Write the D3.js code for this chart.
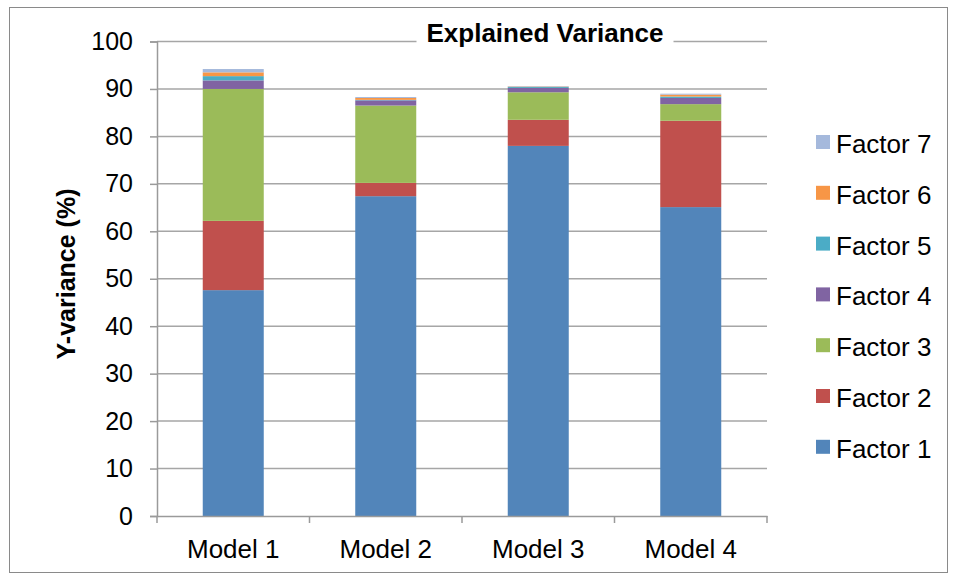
<!DOCTYPE html>
<html>
<head>
<meta charset="utf-8">
<script src="https://cdn.jsdelivr.net/npm/d3@7"></script>
<style>
  html, body { margin: 0; padding: 0; background: #fff; }
  svg { display: block; font-family: "Liberation Sans", Arial, sans-serif; }
</style>
</head>
<body>
<svg id="chart" width="957" height="581"></svg>
<script>
// Explained Y-variance per model, split by factor (stacked percentages)
const models = ["Model 1", "Model 2", "Model 3", "Model 4"];
const factors = ["Factor 1", "Factor 2", "Factor 3", "Factor 4", "Factor 5", "Factor 6", "Factor 7"];
const factor1 = [47.6, 67.4, 78.0, 65.1];
const factor2 = [14.6, 2.8, 5.5, 18.2];
const factor3 = [27.8, 16.3, 5.8, 3.5];
const factor4 = [1.8, 1.1, 0.9, 1.3];
const factor5 = [0.9, 0.1, 0.2, 0.3];
const factor6 = [0.8, 0.4, 0.1, 0.4];
const factor7 = [0.7, 0.2, 0.1, 0.2];
const yTicks = [0, 10, 20, 30, 40, 50, 60, 70, 80, 90, 100];
const colors = ["#5285BA", "#C0504D", "#9BBB59", "#8064A2", "#4BACC6", "#F79646", "#A5B9DC"];

const seriesValues = [factor1, factor2, factor3, factor4, factor5, factor6, factor7];
const rows = models.map((m, i) => {
  const r = { model: m };
  factors.forEach((f, k) => { r[f] = seriesValues[k][i]; });
  return r;
});

const svg = d3.select("#chart");
const plot = { left: 157, right: 767, top: 41.5, bottom: 516 };

// outer frame
svg.append("rect")
  .attr("x", 9.5).attr("y", 7.5).attr("width", 938).attr("height", 565)
  .attr("fill", "#fff").attr("stroke", "#8a8a8a").attr("stroke-width", 1);

const x = d3.scaleBand().domain(models).range([plot.left, plot.right]).paddingInner(0.6).paddingOuter(0.3);
const y = d3.scaleLinear().domain([0, 100]).range([plot.bottom, plot.top]);

// horizontal gridlines
svg.append("g")
  .selectAll("line").data(yTicks.filter(t => t > 0)).join("line")
  .attr("x1", plot.left).attr("x2", plot.right)
  .attr("y1", d => y(d)).attr("y2", d => y(d))
  .attr("stroke", "#a6a6a6").attr("stroke-width", 1.5);

// stacked bars
const stack = d3.stack().keys(factors);
const layers = stack(rows);
svg.append("g").selectAll("g").data(layers).join("g")
  .attr("fill", (d, i) => colors[i])
  .selectAll("rect").data(d => d).join("rect")
  .attr("x", d => x(d.data.model))
  .attr("width", x.bandwidth())
  .attr("y", d => y(d[1]))
  .attr("height", d => y(d[0]) - y(d[1]));

// y axis
const yAxis = d3.axisLeft(y).tickValues(yTicks).tickSize(7).tickPadding(17).tickFormat(d3.format("d"));
const gy = svg.append("g").attr("transform", `translate(${plot.left},0)`).call(yAxis);
gy.select(".domain").attr("stroke", "#9a9a9a").attr("stroke-width", 1.5);
gy.selectAll(".tick line").attr("stroke", "#9a9a9a").attr("stroke-width", 1.5);
gy.selectAll(".tick text").attr("font-size", 25).attr("fill", "#000")
  .attr("font-family", "Liberation Sans, Arial, sans-serif");

// x axis with ticks at category boundaries
const xAxis = d3.axisBottom(x).tickSize(0).tickPadding(24);
const gx = svg.append("g").attr("transform", `translate(0,${plot.bottom})`).call(xAxis);
gx.select(".domain").attr("stroke", "#9a9a9a").attr("stroke-width", 1.5);
gx.selectAll(".tick text").attr("font-size", 26).attr("fill", "#000")
  .attr("font-family", "Liberation Sans, Arial, sans-serif");
const step = (plot.right - plot.left) / models.length;
gx.selectAll(".boundary").data(d3.range(models.length + 1)).join("line")
  .attr("class", "boundary")
  .attr("x1", i => plot.left + i * step).attr("x2", i => plot.left + i * step)
  .attr("y1", 0).attr("y2", 7)
  .attr("stroke", "#9a9a9a").attr("stroke-width", 1.5);

// chart title with white backing over the top gridline
const titleBack = svg.append("rect").attr("fill", "#fff");
const title = svg.append("text")
  .attr("x", 545).attr("y", 42).attr("text-anchor", "middle")
  .attr("font-size", 26).attr("font-weight", "bold").attr("fill", "#000")
  .text("Explained Variance");
const tb = title.node().getBBox();
titleBack
  .attr("x", tb.x - 10).attr("y", tb.y).attr("width", tb.width + 20).attr("height", tb.height);

// y axis title
svg.append("text")
  .attr("transform", "translate(75,274) rotate(-90)")
  .attr("text-anchor", "middle")
  .attr("font-size", 25).attr("font-weight", "bold").attr("fill", "#000")
  .text("Y-variance (%)");

// legend, top entry is the last factor
const legendItems = factors.slice().reverse();
const lg = svg.append("g").selectAll("g").data(legendItems).join("g")
  .attr("transform", (d, i) => `translate(816,${135 + i * 50.8})`);
lg.append("rect").attr("width", 14).attr("height", 14)
  .attr("fill", d => colors[factors.indexOf(d)]);
lg.append("text").attr("x", 20).attr("y", 18)
  .attr("font-size", 26).attr("fill", "#000")
  .text(d => d);
</script>
</body>
</html>
